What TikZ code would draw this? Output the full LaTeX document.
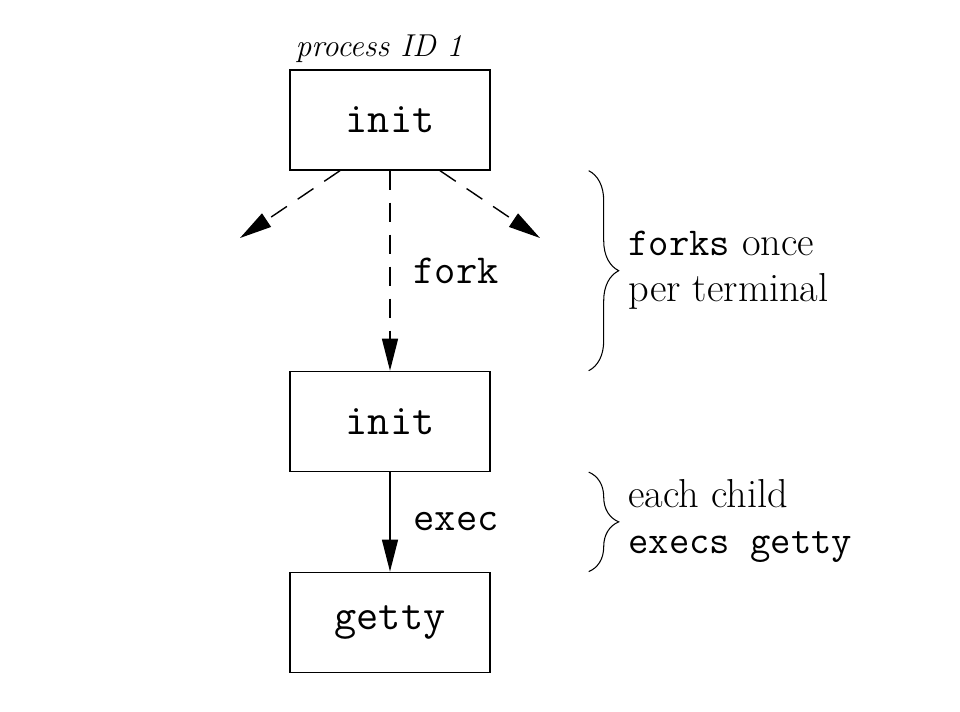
\documentclass[tikz,border=0pt]{standalone}
\usepackage{fontspec}
\usetikzlibrary{arrows.meta, positioning, decorations.pathreplacing}

\begin{document}
\begin{tikzpicture}[
    proc/.style={
        rectangle,
        draw=black,
        line width=0.8pt,
        minimum width=4cm,
        minimum height=2cm,
        font=\fontsize{24.5}{26}\selectfont\ttfamily
    },
    edge label/.style={
        inner sep=0pt,
        font=\fontsize{23.5}{26}\selectfont\ttfamily
    },
    note/.style={
        inner sep=0pt,
        align=left,
        anchor=west,
        font=\fontsize{23}{26}\selectfont
    },
    arrow/.style={
        -{Triangle[length=6.4mm, width=3.2mm]},
        line width=0.8pt
    },
    forkline/.style={
        arrow,
        dash pattern=on 0.38cm off 0.26cm
    },
    curly/.style={
        decorate,
        decoration={brace, amplitude=0.6cm},
        line width=0.6pt
    }
]
\useasboundingbox (0,0) rectangle (19.2,-14.24);

\node[proc] (init) at (7.8,-2.4) {init};
\node[inner sep=0pt, above=0.12cm of init, xshift=-0.22cm,
      font=\fontsize{18}{20}\selectfont\itshape] (pid) {process ID 1};

\node[proc, below=4.0cm of init] (child) {init};
\node[proc, below=1.99cm of child] (getty) {getty};

\coordinate (forkL) at (4.8,-4.76);
\coordinate (forkR) at (10.8,-4.76);

\draw[forkline] ([xshift=-1cm]init.south) -- (forkL);
\draw[forkline] ([xshift=1cm]init.south) -- (forkR);
\draw[forkline] (init) -- node[edge label, midway, right=4.6mm] {fork} (child);
\draw[arrow] (child) -- node[edge label, midway, right=4.6mm] {exec} (getty);

\draw[curly] ([xshift=1.96cm]init.south east) -- ([xshift=1.96cm]child.north east);
\draw[curly] ([xshift=1.96cm]child.south east) -- ([xshift=1.96cm]getty.north east);

\node[note] (forknote) at (12.56,-5.4) {\texttt{\fontsize{22.5}{26}\selectfont forks} once\\per terminal};
\node[note] (execnote) at (12.56,-10.42) {each child\\\texttt{\fontsize{22.5}{26}\selectfont execs getty}};

\end{tikzpicture}
\end{document}
